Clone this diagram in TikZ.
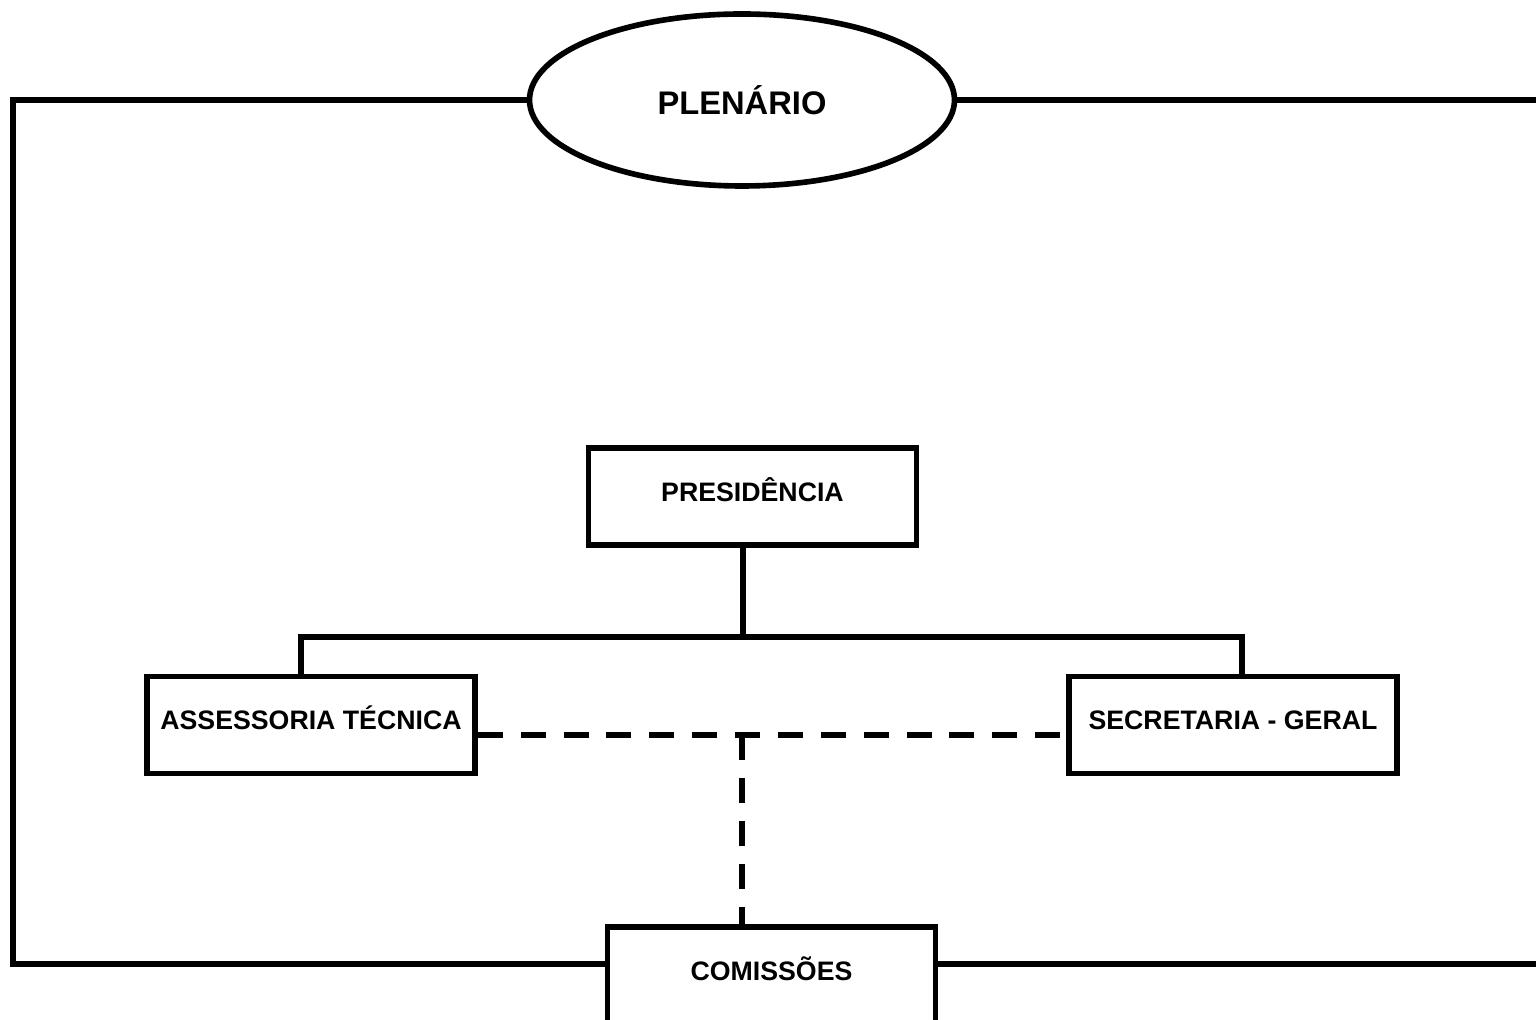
\documentclass[tikz,border=0pt]{standalone}
\usepackage{fontspec}
\setmainfont{Liberation Sans}
\usepackage{tikz}
\usetikzlibrary{shapes, positioning, calc, shapes.geometric}

\begin{document}
\begin{tikzpicture}[
    line width=1.6pt,
    every node/.style={font=\bfseries\fontsize{7.6}{9}\selectfont},
    orgbox/.style={rectangle, draw, fill=white, inner sep=0pt, minimum width=3.28cm, minimum height=0.97cm, text height=5.4pt, text depth=2.8pt},
    assembly/.style={ellipse, draw, fill=white, inner sep=0pt, minimum width=4.25cm, minimum height=1.72cm, font=\bfseries\fontsize{9.3}{11}\selectfont},
    dashline/.style={dash pattern=on 7.1pt off 5.1pt}
]
\useasboundingbox (0,0) rectangle (15.36,-10.20);
\clip (0,0) rectangle (15.36,-10.20);

% Outer frame
\coordinate (tl) at (0.13,-1.00);
\coordinate (bl) at (0.13,-9.64);
\coordinate (tr) at (15.50,-1.00);
\coordinate (br) at (15.50,-9.64);

% Top level
\node[assembly] (plenario) at (7.42,-1.00) {PLENÁRIO};

% Middle
\node[orgbox] (presidencia) at (7.525,-4.965) {PRESIDÊNCIA};
\node[orgbox] (assessoria) at (3.11,-7.25) {ASSESSORIA TÉCNICA};
\node[orgbox] (secretaria) at (12.33,-7.25) {SECRETARIA - GERAL};

% Bottom
\node[orgbox] (comissoes) at (7.715,-9.755) {COMISSÕES};

\coordinate (hub) at (7.43,-6.37);
\coordinate (hubl) at (3.01,-6.37);
\coordinate (hubr) at (12.42,-6.37);
\coordinate (dash) at (7.42,-7.35);

\draw (presidencia.south -| hub) -- (hub);
\draw (assessoria.north -| hubl) -- (hubl) -- (hubr) -- (secretaria.north -| hubr);

\draw[dashline] (assessoria.east |- dash) -- (secretaria.west |- dash);
\draw[dashline] (dash) -- (comissoes.north -| dash);

\draw (plenario.west) -- (tl) -- (bl) -- (comissoes.west |- bl);
\draw (plenario.east) -- (tr);
\draw (comissoes.east |- br) -- (br);

\end{tikzpicture}
\end{document}
